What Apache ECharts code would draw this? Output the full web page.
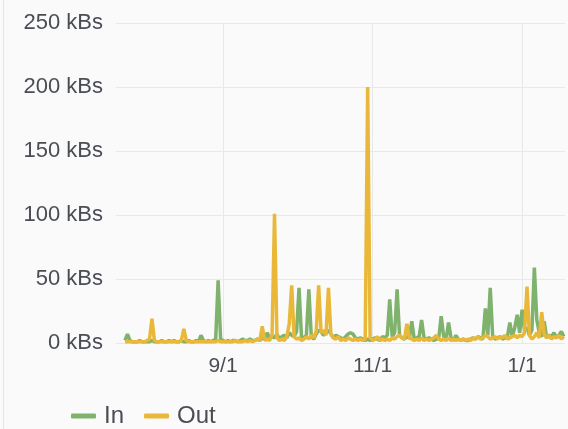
<!DOCTYPE html>
<html>
<head>
<meta charset="utf-8">
<script src="https://cdn.jsdelivr.net/npm/echarts@6/dist/echarts.min.js"></script>
<style>
  html, body { margin: 0; padding: 0; background: #fff; }
  #wrap { position: relative; width: 568px; height: 429px; }
  #chart { width: 568px; height: 429px; background: #fafafa; }
  #edge { position: absolute; left: 3px; top: 0; width: 1px; height: 429px; background: #e6e6e6; }
</style>
</head>
<body>
<div id="wrap">
  <div id="chart"></div>
  <div id="edge"></div>
</div>
<script>
// one value per day, starting 2017-07-23
var startDay = [2017, 6, 23]

var inValues = [
  2, 7, 2, 1, 1, 1, 2, 1, 1, 1,
  1, 2, 1, 1, 1, 2, 1, 1, 2, 1,
  2, 1, 1, 2, 1, 1, 2, 1, 1, 2,
  1, 6, 2, 1, 2, 1, 2, 3, 49, 3,
  2, 1, 2, 1, 2, 2, 1, 2, 3, 2,
  2, 3, 2, 2, 3, 2, 4, 3, 8, 4,
  5, 4, 7, 3, 5, 6, 4, 8, 6, 5,
  9, 43, 5, 4, 6, 42, 5, 3, 7, 10,
  9, 6, 8, 10, 7, 4, 6, 5, 4, 3,
  5, 7, 8, 7, 4, 3, 4, 3, 2, 3,
  2, 3, 4, 3, 2, 5, 4, 6, 34, 5,
  8, 42, 6, 4, 3, 5, 4, 17, 3, 4,
  5, 18, 4, 3, 4, 3, 2, 3, 4, 21,
  5, 3, 16, 4, 2, 6, 3, 2, 3, 2,
  2, 3, 4, 3, 5, 4, 3, 27, 6, 43,
  5, 3, 4, 5, 3, 4, 5, 16, 5, 12,
  22, 8, 26, 10, 12, 6, 10, 59, 18, 8,
  5, 17, 4, 6, 5, 8, 4, 6, 9, 5
]

var outValues = [
  1, 1, 1, 1, 1, 1, 1, 1, 1, 2,
  3, 19, 2, 1, 1, 1, 1, 1, 1, 1,
  1, 1, 1, 2, 11, 2, 1, 1, 1, 1,
  1, 1, 1, 1, 1, 1, 1, 1, 2, 1,
  1, 1, 1, 1, 1, 2, 1, 1, 1, 2,
  1, 2, 1, 2, 3, 2, 13, 2, 3, 2,
  6, 101, 4, 2, 3, 2, 5, 15, 45, 5,
  3, 4, 2, 3, 5, 3, 6, 4, 9, 45,
  8, 10, 6, 43, 7, 4, 3, 5, 2, 3,
  2, 4, 3, 2, 3, 2, 3, 2, 3, 200,
  4, 2, 3, 5, 2, 3, 2, 3, 2, 4,
  3, 5, 6, 4, 3, 15, 4, 3, 2, 3,
  2, 4, 2, 3, 2, 3, 4, 6, 3, 2,
  3, 2, 4, 2, 3, 2, 3, 2, 3, 2,
  3, 2, 4, 3, 5, 3, 4, 6, 5, 3,
  4, 5, 3, 5, 4, 6, 3, 4, 5, 6,
  4, 6, 5, 8, 44, 6, 3, 5, 8, 4,
  24, 7, 4, 6, 3, 5, 4, 6, 3, 5
]

var xTickDays = [[2017, 8, 1], [2017, 10, 1], [2018, 0, 1]]
var yTicks = [0, 50, 100, 150, 200, 250]

var DAY = 86400000
var t0 = new Date(startDay[0], startDay[1], startDay[2]).getTime()

function pairs(values) {
  return values.map(function (v, i) { return [t0 + i * DAY, v] })
}

var xTicks = xTickDays.map(function (d) { return new Date(d[0], d[1], d[2]).getTime() })

var chart = echarts.init(document.getElementById("chart"))

var option = {
  animation: false,
  color: ["#7EB26D", "#EAB839"],
  textStyle: { fontFamily: "Liberation Sans, Arial, sans-serif" },
  grid: { left: 116, right: 3, top: 23, bottom: 86 },
  legend: {
    data: ["In", "Out"],
    left: 71,
    top: 404,
    padding: 0,
    itemWidth: 25,
    itemHeight: 5,
    itemGap: 20,
    icon: "roundRect",
    textStyle: { fontSize: 24, color: "#4b4d55", padding: [0, 0, 0, 3] }
  },
  xAxis: {
    type: "value",
    min: new Date(2017, 6, 19, 8).getTime(),
    max: new Date(2018, 0, 18, 12).getTime(),
    axisLine: { show: false },
    axisTick: { show: false, customValues: xTicks },
    splitLine: { show: true, lineStyle: { color: "#e8e8e8", width: 1 } },
    axisLabel: {
      customValues: xTicks,
      margin: 13,
      fontSize: 21,
      color: "#4b4d55",
      formatter: function (v) {
        var d = new Date(v)
        return (d.getMonth() + 1) + "/" + d.getDate()
      }
    }
  },
  yAxis: {
    type: "value",
    min: yTicks[0],
    max: yTicks[yTicks.length - 1],
    interval: 50,
    axisLine: { show: false },
    axisTick: { show: false },
    splitLine: { lineStyle: { color: "#e8e8e8", width: 1 } },
    axisLabel: {
      margin: 13,
      fontSize: 22,
      color: "#4b4d55",
      formatter: "{value} kBs"
    }
  },
  series: [
    {
      name: "In",
      type: "line",
      data: pairs(inValues),
      showSymbol: false,
      lineStyle: { width: 3.5 }
    },
    {
      name: "Out",
      type: "line",
      data: pairs(outValues),
      showSymbol: false,
      lineStyle: { width: 3.5 }
    }
  ]
}

chart.setOption(option)
</script>
</body>
</html>
